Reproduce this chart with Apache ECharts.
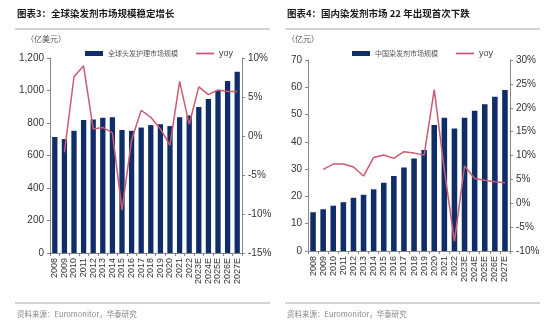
<!DOCTYPE html>
<html><head><meta charset="utf-8">
<script src="https://cdn.jsdelivr.net/npm/echarts@6/dist/echarts.min.js"></script>
<style>html,body{margin:0;padding:0;background:#fff}#c{width:550px;height:330px}</style>
</head><body><div id="c"></div>
<script>
const years = ['2008','2009','2010','2011','2012','2013','2014','2015','2016','2017','2018','2019','2020','2021','2022','2023E','2024E','2025E','2026E','2027E'];
const globalMarket = [714,701,752,818,822,833,835,757,752,772,787,793,781,836,846,898,947,1000,1058,1115];
const globalYoy = [null,-2.1,7.6,9.0,0.9,1.1,0.4,-9.5,-0.5,3.3,2.4,0.9,-1.2,7.0,1.5,6.3,5.3,5.9,5.7,5.7];
const chinaMarket = [14.2,15.3,16.6,17.9,19.5,20.6,22.6,25.0,27.5,30.6,33.9,37.0,46.2,48.8,44.9,48.8,51.4,53.8,56.5,59.0];
const chinaYoy = [null,7.1,8.2,8.2,7.6,5.7,9.6,10.1,9.4,10.8,10.5,10.1,23.8,7.0,-8.0,7.8,5.2,4.8,4.5,4.3];
const leftTitle = '图表3：全球染发剂市场规模稳定增长';
const rightTitle = '图表4：国内染发剂市场 22 年出现首次下跌';
const source = '资料来源：Euromonitor，华泰研究';

const BAR = '#0f2d66', LINE = '#cc5a72', AX = '#888', TXT = '#333';
const NUMF = '"Liberation Sans Narrow","Liberation Sans",Arial,sans-serif';
const CJK = '"Noto Sans CJK SC",sans-serif';
function thousands(v){return String(v).replace(/\B(?=(\d{3})+(?!\d))/g, ',');}

function xAx(gi){return {type:'category',gridIndex:gi,data:years,
  axisLine:{lineStyle:{color:AX}},axisTick:{show:true,length:3,lineStyle:{color:AX}},
  axisLabel:{rotate:90,fontSize:9,color:TXT,fontFamily:NUMF,margin:5,interval:0}};}
function yAx(gi,min,max,iv,pos,fmt){return {type:'value',gridIndex:gi,position:pos,min:min,max:max,interval:iv,
  axisLine:{show:true,lineStyle:{color:AX}},axisTick:{show:true,length:3,lineStyle:{color:AX}},
  splitLine:{show:false},axisLabel:{fontSize:10,color:TXT,fontFamily:NUMF,margin:6,formatter:fmt}};}
const yoyLegendText = {fontSize:9,color:'#444',fontFamily:NUMF};

const chart = echarts.init(document.getElementById('c'));
chart.setOption({
  animation:false,
  grid:[{left:50,top:58,width:192,height:195},{left:308,top:60,width:202,height:191}],
  xAxis:[xAx(0),xAx(1)],
  yAxis:[
    yAx(0,0,1200,200,'left',v=>thousands(v)),
    yAx(0,-15,10,5,'right',v=>v+'%'),
    yAx(1,0,70,10,'left',v=>v),
    yAx(1,-10,30,5,'right',v=>v+'%')
  ],
  legend:[
    {left:80,top:44,itemGap:18,itemWidth:18,itemHeight:5,textStyle:{fontSize:7,color:'#555',fontFamily:CJK},
     data:[{name:'全球头发护理市场规模',icon:'rect'},{name:'yoy',icon:'path://M0,0H10V1H0Z',textStyle:yoyLegendText}]},
    {left:347,top:44,itemGap:18,itemWidth:18,itemHeight:5,textStyle:{fontSize:7,color:'#555',fontFamily:CJK},
     data:[{name:'中国染发剂市场规模',icon:'rect'},{name:'yoy ',icon:'path://M0,0H10V1H0Z',textStyle:yoyLegendText}]}
  ],
  series:[
    {name:'全球头发护理市场规模',type:'bar',xAxisIndex:0,yAxisIndex:0,data:globalMarket,barWidth:'55%',itemStyle:{color:BAR}},
    {name:'yoy',type:'line',xAxisIndex:0,yAxisIndex:1,data:globalYoy,showSymbol:false,lineStyle:{color:LINE,width:1.5},itemStyle:{color:LINE}},
    {name:'中国染发剂市场规模',type:'bar',xAxisIndex:1,yAxisIndex:2,data:chinaMarket,barWidth:'55%',itemStyle:{color:BAR}},
    {name:'yoy ',type:'line',xAxisIndex:1,yAxisIndex:3,data:chinaYoy,showSymbol:false,lineStyle:{color:LINE,width:1.5},itemStyle:{color:LINE}}
  ],
  graphic:[
    {type:'text',left:17,top:9,style:{text:leftTitle,fontSize:9.5,fontWeight:'bold',fill:'#1a1a1a',fontFamily:CJK}},
    {type:'text',left:287,top:9,style:{text:rightTitle,fontSize:9.5,fontWeight:'bold',fill:'#1a1a1a',fontFamily:CJK}},
    {type:'line',shape:{x1:15,y1:29,x2:270,y2:29},style:{stroke:'#aaa',lineWidth:1}},
    {type:'line',shape:{x1:285,y1:29,x2:540,y2:29},style:{stroke:'#aaa',lineWidth:1}},
    {type:'line',shape:{x1:15,y1:303,x2:270,y2:303},style:{stroke:'#aaa',lineWidth:1}},
    {type:'line',shape:{x1:285,y1:303,x2:540,y2:303},style:{stroke:'#aaa',lineWidth:1}},
    {type:'text',left:26,top:35,style:{text:'（亿美元）',fontSize:8,fill:'#555',fontFamily:CJK}},
    {type:'text',left:287,top:35,style:{text:'（亿元）',fontSize:8,fill:'#555',fontFamily:CJK}},
    {type:'text',left:17,top:310,style:{text:source,fontSize:7.5,fill:'#888',fontFamily:CJK}},
    {type:'text',left:287,top:310,style:{text:source,fontSize:7.5,fill:'#888',fontFamily:CJK}}
  ]
});
</script></body></html>
